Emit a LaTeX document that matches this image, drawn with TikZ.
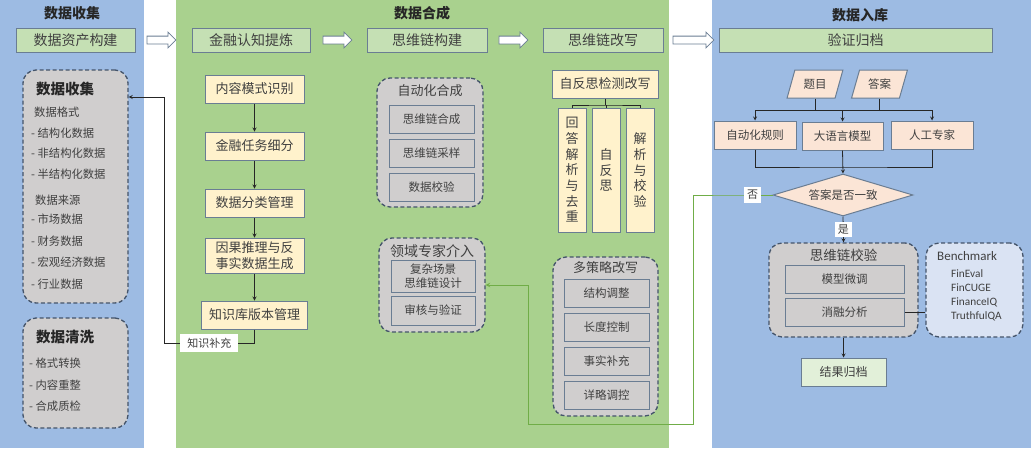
\documentclass[tikz,border=0pt]{standalone}
\usepackage{fontspec}
\setmainfont{Noto Sans CJK SC}
\newfontfamily\latinfont{Carlito}
\usepackage{tikz}
\usetikzlibrary{shapes.geometric, shapes.arrows, arrows, positioning}

\definecolor{bluepanel}{HTML}{9DBBE3}
\definecolor{greenpanel}{HTML}{A9D18E}
\definecolor{headfill}{HTML}{C5E0B4}
\definecolor{boxline}{HTML}{6A7D93}
\definecolor{yelfill}{HTML}{FFF2CC}
\definecolor{grayfill}{HTML}{D0CECE}
\definecolor{dashline}{HTML}{44546A}
\definecolor{peach}{HTML}{FBE5D6}
\definecolor{lightgreen}{HTML}{E2F0D9}
\definecolor{lightblue}{HTML}{DAE3F3}
\definecolor{loopgreen}{HTML}{70AD47}
\definecolor{txt}{HTML}{404040}

\tikzstyle{paneltitle} = [font=\bfseries\fontsize{14}{16}\selectfont, text=black!85]
\tikzstyle{headbox}    = [rectangle, minimum height=24pt, text centered, draw=boxline, fill=headfill, line width=1pt, text=txt, font=\fontsize{14}{16}\selectfont]
\tikzstyle{hollow}     = [single arrow, draw=boxline, fill=white, line width=0.8pt, minimum height=29pt, single arrow head extend=4pt, inner xsep=0pt, inner ysep=3.5pt]
\tikzstyle{groupbox}   = [rectangle, rounded corners=13pt, draw=dashline, fill=grayfill, line width=1.3pt, dash pattern=on 4pt off 2.5pt]
\tikzstyle{grouptitle} = [font=\bfseries\fontsize{14.5}{16}\selectfont, text=black!85]
\tikzstyle{subtitle}   = [font=\fontsize{13}{15}\selectfont, text=txt]
\tikzstyle{item}       = [anchor=west, inner sep=0pt, font=\fontsize{11.3}{13}\selectfont, text=txt]
\tikzstyle{stepbox}    = [rectangle, minimum width=99pt, minimum height=28pt, text centered, draw=boxline, fill=yelfill, line width=1pt, text=txt, font=\fontsize{13}{16}\selectfont]
\tikzstyle{vstep}      = [rectangle, minimum width=28pt, minimum height=124pt, align=center, inner sep=0pt, draw=boxline, fill=yelfill, line width=1pt, text=txt, font=\fontsize{13}{15.7}\selectfont]
\tikzstyle{subbox}     = [rectangle, minimum width=85pt, minimum height=28pt, text centered, draw=boxline, fill=grayfill, line width=1pt, text=txt, font=\fontsize{11.5}{13}\selectfont]
\tikzstyle{peachbox}   = [rectangle, minimum height=28pt, text centered, draw=boxline, fill=peach, line width=1pt, text=txt, font=\fontsize{11.5}{13}\selectfont]
\tikzstyle{dataio}     = [trapezium, trapezium left angle=71, trapezium right angle=109, trapezium stretches=true, minimum width=56pt, minimum height=28pt, draw=boxline, fill=peach, line width=1pt, text=txt, font=\fontsize{11.5}{13}\selectfont]
\tikzstyle{decision}   = [diamond, aspect=3.3, inner sep=0pt, minimum width=140pt, minimum height=42pt, draw=boxline, fill=peach, line width=1pt, text=txt, font=\fontsize{11.5}{13}\selectfont]
\tikzstyle{tag}        = [fill=white, inner sep=3pt, text=txt, font=\fontsize{11}{13}\selectfont]
\tikzstyle{arrow}      = [thick,->,>=stealth, draw=black!85]
\tikzstyle{loopback}   = [line width=1pt,->,>=stealth, draw=loopgreen]

\begin{document}
\begin{tikzpicture}[x=1pt, y=-1pt, node distance=57pt]
    \useasboundingbox (0,0) rectangle (1031,451);

    % panels
    \fill[bluepanel]  (0,0)   rectangle (144,448);
    \fill[greenpanel] (176,0) rectangle (669,448);
    \fill[bluepanel]  (712,0) rectangle (1031,448);

    \node (tcollect) [paneltitle] at (72,13)  {数据收集};
    \node (tsynth)   [paneltitle] at (422,13) {数据合成};
    \node (tstore)   [paneltitle] at (860,15) {数据入库};

    \node (asset)   [headbox, minimum width=119pt] at (75.5,40)  {数据资产构建};
    \node (refine)  [headbox, minimum width=118pt] at (251,40)   {金融认知提炼};
    \node (build)   [headbox, minimum width=120pt] at (427,40)   {思维链构建};
    \node (rewrite) [headbox, minimum width=120pt] at (603,40)   {思维链改写};
    \node (store)   [headbox, minimum width=273pt] at (855.5,40) {验证归档};

    \node (arra) [hollow, right=11pt of asset]  {};
    \node (arrb) [hollow, right=12pt of refine] {};
    \node (arrc) [hollow, right=11pt of build]  {};
    \node (arrd) [hollow, right=9pt of rewrite, minimum height=41pt] {};

    % data collection
    \node (collect)   [groupbox, minimum width=105pt, minimum height=233pt] at (75.5,186.5) {};
    \node (collectt)  [grouptitle] at (65,89) {数据收集};
    \node (fmt)       [item] at (34,112) {数据格式};
    \node (fmta)      [item] at (31,133) {- 结构化数据};
    \node (fmtb)      [item] at (31,153) {- 非结构化数据};
    \node (fmtc)      [item] at (31,174) {- 半结构化数据};
    \node (src)       [item] at (35,200) {数据来源};
    \node (srca)      [item] at (31,219) {- 市场数据};
    \node (srcb)      [item] at (31,241) {- 财务数据};
    \node (srcc)      [item] at (31,262) {- 宏观经济数据};
    \node (srcd)      [item] at (31,284) {- 行业数据};

    \node (clean)     [groupbox, minimum width=105pt, minimum height=110pt] at (75.5,373) {};
    \node (cleant)    [grouptitle] at (65,337) {数据清洗};
    \node (cleana)    [item] at (29,363) {- 格式转换};
    \node (cleanb)    [item] at (29,385) {- 内容重整};
    \node (cleanc)    [item] at (29,406) {- 合成质检};

    % cognition refining
    \node (pattern)  [stepbox] at (254.5,89)           {内容模式识别};
    \node (tasks)    [stepbox, below of=pattern]       {金融任务细分};
    \node (classify) [stepbox, below of=tasks]         {数据分类管理};
    \node (causal)   [stepbox, below of=classify, yshift=4.5pt, minimum height=35pt, align=center] {因果推理与反\\事实数据生成};
    \node (kbase)    [stepbox, below of=causal, yshift=-2.5pt, minimum width=106pt] {知识库版本管理};

    \draw [arrow] (pattern) -- (tasks);
    \draw [arrow] (tasks) -- (classify);
    \draw [arrow] (classify) -- (causal);
    \draw [arrow] (causal) -- (kbase);

    \coordinate (fbbot) at (164,343);
    \coordinate (fbtop) at (164,97);
    \draw [arrow] (kbase.south) |- node[tag, pos=0.75, inner xsep=7pt, inner ysep=4pt] {知识补充} (fbbot) -- (fbtop) -- (fbtop -| collect.east);

    % chain construction
    \node (autogrp)   [groupbox, minimum width=106pt, minimum height=129pt] at (430,142.5) {};
    \node (autot)     [subtitle] at (430,91) {自动化合成};
    \node (cotgen)    [subbox] at (431.5,119.5) {思维链合成};
    \node (cotsample) [subbox, node distance=34pt, below of=cotgen]    {思维链采样};
    \node (cotcheck)  [subbox, node distance=34pt, below of=cotsample] {数据校验};

    \node (expertgrp) [groupbox, minimum width=106pt, minimum height=94pt] at (432,285) {};
    \node (expertt)   [subtitle, font=\fontsize{14}{16}\selectfont] at (432,251) {领域专家介入};
    \node (design)    [subbox, minimum width=84pt, minimum height=29pt, align=center, font=\fontsize{11.5}{14}\selectfont] at (433,276.5) {复杂场景\\思维链设计};
    \node (review)    [subbox, minimum width=84pt, minimum height=29pt, node distance=34pt, below of=design] {审核与验证};

    % chain rewriting
    \node (reflect)    [stepbox, minimum width=106pt] at (605,84) {自反思检测改写};
    \node (answerfix)  [vstep] at (572,170) {回\\答\\解\\析\\与\\去\\重};
    \node (selfref)    [vstep, node distance=34pt, right of=answerfix] {自\\反\\思};
    \node (parsecheck) [vstep, node distance=34pt, right of=selfref]   {解\\析\\与\\校\\验};

    \coordinate (brk) at (605,105);
    \draw [thick, black!85] (reflect.south) -- (brk);
    \draw [thick, black!85] (answerfix.north) |- (brk) -| (parsecheck.north);
    \draw [thick, black!85] (selfref.north) -- (selfref.north |- brk);

    \node (multigrp) [groupbox, minimum width=105pt, minimum height=159pt] at (605.5,336.5) {};
    \node (multit)   [subtitle] at (605.5,268) {多策略改写};
    \node (restruct) [subbox] at (606.5,293.5) {结构调整};
    \node (length)   [subbox, node distance=34pt, below of=restruct] {长度控制};
    \node (facts)    [subbox, node distance=34pt, below of=length]   {事实补充};
    \node (detail)   [subbox, node distance=34pt, below of=facts]    {详略调控};

    % verification
    \node (question)   [dataio] at (815,84)   {题目};
    \node (answer)     [dataio] at (879.5,84) {答案};
    \node (rulecheck)  [peachbox, minimum width=82pt] at (755,135)   {自动化规则};
    \node (llmcheck)   [peachbox, minimum width=81pt] at (842.5,136) {大语言模型};
    \node (humancheck) [peachbox, minimum width=82pt] at (932,135)   {人工专家};
    \node (agree)      [decision] at (843,195) {答案是否一致};

    \coordinate (fork)  at (843,110);
    \coordinate (merge) at (843,167);
    \draw [thick, black!85] (question.south) -- (question.south |- fork);
    \draw [thick, black!85] (answer.south) -- (answer.south |- fork);
    \draw [thick, black!85] (rulecheck.north |- fork) -- (humancheck.north |- fork);
    \draw [arrow] (rulecheck.north |- fork) -- (rulecheck.north);
    \draw [arrow] (llmcheck.north |- fork) -- (llmcheck.north);
    \draw [arrow] (humancheck.north |- fork) -- (humancheck.north);
    \draw [thick, black!85] (rulecheck.south) |- (merge) -| (humancheck.south);
    \draw [arrow] (llmcheck.south) -- (agree.north);

    \node (cotverify) [groupbox, minimum width=149pt, minimum height=94pt] at (843.5,290) {};
    \node (verifyt)   [subtitle, font=\fontsize{13.5}{15}\selectfont] at (843.5,255) {思维链校验};
    \node (finetune)  [subbox, minimum width=119pt] at (844.5,279) {模型微调};
    \node (ablation)  [subbox, minimum width=119pt, node distance=33.5pt, below of=finetune] {消融分析};

    \node (bench)  [groupbox, fill=lightblue, minimum width=97pt, minimum height=94pt] at (974.5,290) {};
    \node (benchtitle) [anchor=west, inner sep=0pt, text=txt, font=\latinfont\fontsize{13}{15}\selectfont] at (937,256) {Benchmark};
    \node (fineval)    [item, font=\latinfont\fontsize{11.3}{13}\selectfont] at (951,274) {FinEval};
    \node (fincuge)    [item, font=\latinfont\fontsize{11.3}{13}\selectfont] at (951,288) {FinCUGE};
    \node (financeiq)  [item, font=\latinfont\fontsize{11.3}{13}\selectfont] at (951,302) {FinanceIQ};
    \node (truthfulqa) [item, font=\latinfont\fontsize{11.3}{13}\selectfont] at (951,316) {TruthfulQA};

    \node (archive) [stepbox, fill=lightgreen, minimum width=85pt, font=\fontsize{12}{14}\selectfont] at (843.5,372) {结果归档};

    \draw [arrow] (agree.south) -- node[tag] {是} (cotverify.north);
    \draw [thick, black!85] (ablation.east) -- (ablation.east -| bench.west);
    \draw [arrow] (cotverify.south) -- (archive.north);

    \coordinate (loopa) at (693,424);
    \coordinate (loopb) at (528,424);
    \draw [loopback] (agree.west) -- node[tag] {否} ++(-40,0) -| (loopa) -- (loopb) |- (expertgrp.east);

\end{tikzpicture}
\end{document}
